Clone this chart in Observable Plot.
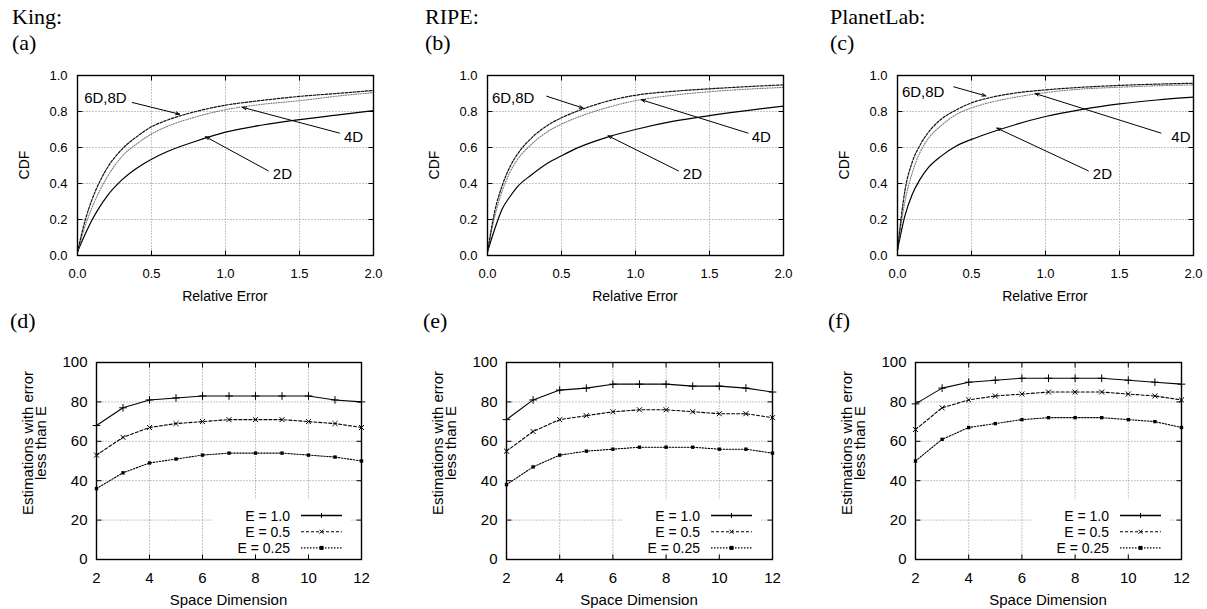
<!DOCTYPE html>
<html><head><meta charset="utf-8">
<script src="https://cdn.jsdelivr.net/npm/d3@7"></script>
<script src="https://cdn.jsdelivr.net/npm/@observablehq/plot@0.6"></script>
<style>
html,body{margin:0;padding:0;background:#fff;}
#root{position:relative;width:1207px;height:609px;overflow:hidden;font-family:"Liberation Sans",Arial,sans-serif;}
.panel{position:absolute;}
#overlay{position:absolute;left:0;top:0;pointer-events:none;}
</style></head><body><div id="root"></div>
<script>
// ---------- data ----------
const datasetNames = ["King:", "RIPE:", "PlanetLab:"];
const topTags = ["(a)", "(b)", "(c)"];
const bottomTags = ["(d)", "(e)", "(f)"];
const cdfSeriesNames = ["2D", "4D", "6D,8D"];

// Relative error sample points (x) for CDF curves
const cdfX = [0, 0.05, 0.1, 0.15, 0.2, 0.3, 0.4, 0.5, 0.6, 0.8, 1.0, 1.25, 1.5, 1.75, 2.0];

const king2D   = [0.02, 0.115, 0.20, 0.27, 0.33, 0.42, 0.485, 0.535, 0.575, 0.635, 0.685, 0.725, 0.755, 0.78, 0.805];
const king4D   = [0.02, 0.16, 0.27, 0.36, 0.435, 0.55, 0.62, 0.675, 0.715, 0.77, 0.81, 0.84, 0.86, 0.885, 0.905];
const king6D8D = [0.02, 0.19, 0.315, 0.41, 0.485, 0.59, 0.66, 0.715, 0.75, 0.80, 0.835, 0.862, 0.884, 0.90, 0.917];

const ripe2D   = [0.02, 0.15, 0.26, 0.325, 0.38, 0.45, 0.51, 0.554, 0.595, 0.655, 0.70, 0.745, 0.777, 0.805, 0.83];
const ripe4D   = [0.02, 0.22, 0.36, 0.46, 0.53, 0.62, 0.685, 0.73, 0.765, 0.82, 0.86, 0.89, 0.91, 0.924, 0.934];
const ripe6D8D = [0.02, 0.25, 0.39, 0.49, 0.56, 0.655, 0.72, 0.765, 0.80, 0.855, 0.89, 0.912, 0.926, 0.938, 0.948];

const planet2D   = [0.03, 0.22, 0.34, 0.42, 0.48, 0.555, 0.61, 0.645, 0.675, 0.728, 0.772, 0.812, 0.842, 0.864, 0.88];
const planet4D   = [0.03, 0.30, 0.46, 0.57, 0.64, 0.725, 0.785, 0.82, 0.845, 0.88, 0.905, 0.925, 0.935, 0.943, 0.948];
const planet6D8D = [0.03, 0.36, 0.52, 0.61, 0.675, 0.76, 0.81, 0.848, 0.872, 0.903, 0.92, 0.935, 0.945, 0.952, 0.957];

// Annotation labels and arrows (data coordinates)
const annLabels = ["6D,8D", "4D", "2D"];
const kingAnn = [
  {lx: 0.045, ly: 0.875, x1: 0.37, y1: 0.85, x2: 0.69, y2: 0.785},
  {lx: 1.80, ly: 0.655, x1: 1.77, y1: 0.68, x2: 1.115, y2: 0.823},
  {lx: 1.32, ly: 0.45, x1: 1.29, y1: 0.47, x2: 0.865, y2: 0.66}
];
const ripeAnn = [
  {lx: 0.03, ly: 0.875, x1: 0.40, y1: 0.885, x2: 0.646, y2: 0.819},
  {lx: 1.785, ly: 0.655, x1: 1.76, y1: 0.68, x2: 1.04, y2: 0.865},
  {lx: 1.32, ly: 0.45, x1: 1.29, y1: 0.47, x2: 0.815, y2: 0.665}
];
const planetAnn = [
  {lx: 0.03, ly: 0.91, x1: 0.38, y1: 0.937, x2: 0.597, y2: 0.887},
  {lx: 1.85, ly: 0.655, x1: 1.78, y1: 0.68, x2: 0.93, y2: 0.90},
  {lx: 1.32, ly: 0.45, x1: 1.29, y1: 0.47, x2: 0.671, y2: 0.708}
];

// Space dimension vs % estimations with error < E
const dims = [2, 3, 4, 5, 6, 7, 8, 9, 10, 11, 12];
const errNames = ["E = 1.0", "E = 0.5", "E = 0.25"];
const kingE100 = [68, 77, 81, 82, 83, 83, 83, 83, 83, 81, 80];
const kingE050 = [53, 62, 67, 69, 70, 71, 71, 71, 70, 69, 67];
const kingE025 = [36, 44, 49, 51, 53, 54, 54, 54, 53, 52, 50];
const ripeE100 = [71, 81, 86, 87, 89, 89, 89, 88, 88, 87, 85];
const ripeE050 = [55, 65, 71, 73, 75, 76, 76, 75, 74, 74, 72];
const ripeE025 = [38, 47, 53, 55, 56, 57, 57, 57, 56, 56, 54];
const planetE100 = [79, 87, 90, 91, 92, 92, 92, 92, 91, 90, 89];
const planetE050 = [66, 77, 81, 83, 84, 85, 85, 85, 84, 83, 81];
const planetE025 = [50, 61, 67, 69, 71, 72, 72, 72, 71, 70, 67];

const cdfDomainX = [0, 2];
const cdfDomainY = [0, 1];
const cdfTicksX = [0, 0.5, 1, 1.5, 2];
const cdfTicksY = [0, 0.2, 0.4, 0.6, 0.8, 1];
const cdfGridX = [0.5, 1, 1.5];
const cdfGridY = [0.2, 0.4, 0.6, 0.8];
const dimDomainX = [2, 12];
const dimDomainY = [0, 100];
const dimTicksX = [2, 4, 6, 8, 10, 12];
const dimTicksY = [0, 20, 40, 60, 80, 100];
const dimGridX = [4, 6, 8, 10];
const dimGridY = [20, 40, 60, 80];

// ---------- styles / layout ----------
const SANS = "Liberation Sans, Arial, Helvetica, sans-serif";
const SERIF = "Liberation Serif, Times New Roman, serif";
const cdfStyles = [
  {stroke: "black", strokeWidth: 1.2, dash: null},
  {stroke: "#777", strokeWidth: 1.1, dash: "1,1.5"},
  {stroke: "#111", strokeWidth: 1.2, dash: "2.5,1.5"}
];
const errStyles = [
  {dash: null, symbol: "plus", fill: "none", r: 2.6},
  {dash: "3,2", symbol: "times", fill: "none", r: 2.4},
  {dash: "1.5,1.5", symbol: "square", fill: "black", r: 1.9}
];
const gridStyle = {stroke: "#8a8a8a", strokeOpacity: 1, strokeWidth: 1, strokeDasharray: "1,2"};

const topLayout = [
  {left: 0, width: 400, ml: 77, mr: 27},
  {left: 400, width: 400, ml: 87, mr: 17},
  {left: 800, width: 407, ml: 97, mr: 14}
];
const botLayout = [
  {left: 0, width: 400, ml: 96, mr: 39},
  {left: 400, width: 400, ml: 106, mr: 28},
  {left: 800, width: 407, ml: 115, mr: 26}
];
const TOP = {top: 60, height: 250, mt: 15, mb: 55};
const BOT = {top: 340, height: 269, mt: 22, mb: 50};
const TICK = 5;

const cdfData = [
  [king2D, king4D, king6D8D],
  [ripe2D, ripe4D, ripe6D8D],
  [planet2D, planet4D, planet6D8D]
];
const annData = [kingAnn, ripeAnn, planetAnn];
const errData = [
  [kingE100, kingE050, kingE025],
  [ripeE100, ripeE050, ripeE025],
  [planetE100, planetE050, planetE025]
];

const root = document.getElementById("root");

function place(el, left, top) {
  const wrap = document.createElement("div");
  wrap.className = "panel";
  wrap.style.left = left + "px";
  wrap.style.top = top + "px";
  wrap.appendChild(el);
  root.appendChild(wrap);
}

// dotted grid + inward gnuplot-style ticks on all four sides, drawn as links
function gridAndTicks(gx, gy, xt, yt, dx, dy, fw, fh) {
  const tx = (dx[1] - dx[0]) * TICK / fw;   // tick length in x data units
  const ty = (dy[1] - dy[0]) * TICK / fh;   // tick length in y data units
  const s = {stroke: "black", strokeWidth: 1};
  const V = a => a.map(v => ({v}));
  return [
    Plot.link(V(gx), {x1: "v", x2: "v", y1: () => dy[0], y2: () => dy[1], ...gridStyle}),
    Plot.link(V(gy), {y1: "v", y2: "v", x1: () => dx[0], x2: () => dx[1], ...gridStyle}),
    Plot.link(V(xt), {x1: "v", x2: "v", y1: () => dy[0], y2: () => dy[0] + ty, ...s}),
    Plot.link(V(xt), {x1: "v", x2: "v", y1: () => dy[1], y2: () => dy[1] - ty, ...s}),
    Plot.link(V(yt), {y1: "v", y2: "v", x1: () => dx[0], x2: () => dx[0] + tx, ...s}),
    Plot.link(V(yt), {y1: "v", y2: "v", x1: () => dx[1], x2: () => dx[1] - tx, ...s})
  ];
}

// ---------- CDF panels ----------
cdfData.forEach((series, p) => {
  const L = topLayout[p];
  const fw = L.width - L.ml - L.mr, fh = TOP.height - TOP.mt - TOP.mb;
  const rows = [];
  series.forEach((vals, s) => vals.forEach((v, i) => rows.push({x: cdfX[i], y: v, s: cdfSeriesNames[s]})));
  const ann = annData[p].map((a, i) => ({...a, label: annLabels[i]}));
  const chart = Plot.plot({
    width: L.width, height: TOP.height,
    marginLeft: L.ml, marginRight: L.mr, marginTop: TOP.mt, marginBottom: TOP.mb,
    style: {fontFamily: SANS, fontSize: "13px", color: "black", background: "white", overflow: "visible"},
    x: {domain: cdfDomainX},
    y: {domain: cdfDomainY},
    marks: [
      ...gridAndTicks(cdfGridX, cdfGridY, cdfTicksX, cdfTicksY, cdfDomainX, cdfDomainY, fw, fh),
      Plot.axisX({ticks: cdfTicksX, tickSize: 0, tickPadding: 13, tickFormat: d3.format(".1f"), label: null, fontSize: 13}),
      Plot.axisY({ticks: cdfTicksY, tickSize: 0, tickPadding: 10, tickFormat: d3.format(".1f"), label: null, fontSize: 13}),
      ...cdfSeriesNames.map((name, s) => Plot.line(rows.filter(r => r.s === name), {
        x: "x", y: "y", curve: "monotone-x",
        stroke: cdfStyles[s].stroke, strokeWidth: cdfStyles[s].strokeWidth,
        strokeDasharray: cdfStyles[s].dash
      })),
      Plot.arrow(ann, {x1: "x1", y1: "y1", x2: "x2", y2: "y2", stroke: "black", strokeWidth: 1, headLength: 6, headAngle: 40}),
      Plot.text(ann, {x: "lx", y: "ly", text: "label", textAnchor: "start", fontSize: 15, fill: "black"}),
      Plot.frame({stroke: "black", strokeWidth: 1.4})
    ]
  });
  place(chart, L.left, TOP.top);
});

// ---------- dimension panels ----------
errData.forEach((series, p) => {
  const L = botLayout[p];
  const fw = L.width - L.ml - L.mr, fh = BOT.height - BOT.mt - BOT.mb;
  const rows = [];
  series.forEach((vals, s) => vals.forEach((v, i) => rows.push({d: dims[i], v, s: errNames[s]})));
  const chart = Plot.plot({
    width: L.width, height: BOT.height,
    marginLeft: L.ml, marginRight: L.mr, marginTop: BOT.mt, marginBottom: BOT.mb,
    style: {fontFamily: SANS, fontSize: "15px", color: "black", background: "white", overflow: "visible"},
    x: {domain: dimDomainX},
    y: {domain: dimDomainY},
    marks: [
      ...gridAndTicks(dimGridX, dimGridY, dimTicksX, dimTicksY, dimDomainX, dimDomainY, fw, fh),
      Plot.axisX({ticks: dimTicksX, tickSize: 0, tickPadding: 13, label: null, fontSize: 15}),
      Plot.axisY({ticks: dimTicksY, tickSize: 0, tickPadding: 9, label: null, fontSize: 15}),
      ...errNames.map((name, s) => Plot.line(rows.filter(r => r.s === name), {
        x: "d", y: "v", stroke: "black", strokeWidth: 1.1, strokeDasharray: errStyles[s].dash
      })),
      ...errNames.map((name, s) => Plot.dot(rows.filter(r => r.s === name), {
        x: "d", y: "v", symbol: errStyles[s].symbol, r: errStyles[s].r,
        stroke: errStyles[s].fill === "none" ? "black" : "none", fill: errStyles[s].fill, strokeWidth: 1
      })),
      Plot.frame({stroke: "black", strokeWidth: 1.4})
    ]
  });
  place(chart, L.left, BOT.top);
});

// ---------- overlay: titles, axis titles, legends ----------
const overlay = d3.select("#root").append("svg").attr("id", "overlay")
  .attr("width", 1207).attr("height", 609);

function txt(x, y, s, size, o = {}) {
  const t = overlay.append("text").attr("x", x).attr("y", y).text(s)
    .attr("font-size", size)
    .attr("font-family", o.serif ? SERIF : SANS)
    .attr("text-anchor", o.anchor || "start")
    .attr("fill", "black");
  if (o.middle) t.attr("dominant-baseline", "central");
  if (o.rotate) t.attr("transform", `rotate(${o.rotate},${x},${y})`);
  return t;
}

const titleX = [12, 425, 830];
const botTagX = [10, 423, 828];
datasetNames.forEach((n, i) => {
  txt(titleX[i], 24, n, 22, {serif: true});
  txt(titleX[i], 50, topTags[i], 22, {serif: true});
  txt(botTagX[i], 328, bottomTags[i], 22, {serif: true});
});

topLayout.forEach(L => {
  const fl = L.left + L.ml, fr = L.left + L.width - L.mr;
  const fmid = (TOP.top + TOP.mt + TOP.top + TOP.height - TOP.mb) / 2;
  txt(fl - 53, fmid, "CDF", 14, {anchor: "middle", middle: true, rotate: -90});
  txt((fl + fr) / 2, 296, "Relative Error", 14, {anchor: "middle", middle: true});
});

botLayout.forEach((L, p) => {
  const fl = L.left + L.ml, fr = L.left + L.width - L.mr;
  const fb = BOT.top + BOT.height - BOT.mb;
  txt((fl + fr) / 2, 599, "Space Dimension", 15, {anchor: "middle", middle: true});
  const t = overlay.append("text").attr("font-size", 15).attr("font-family", SANS).attr("fill", "black")
    .attr("text-anchor", "middle").attr("transform", `translate(${fl - 61},443) rotate(-90)`);
  t.append("tspan").attr("x", 0).attr("y", -2).text("Estimations with error");
  t.append("tspan").attr("x", 0).attr("dy", 13).text("less than E");
  // legend box
  overlay.append("rect").attr("x", fl + 117).attr("y", fb - 60).attr("width", 138).attr("height", 54).attr("fill", "white");
  const rowY = [fb - 43.5, fb - 27.3, fb - 11.1];
  errNames.forEach((name, s) => {
    const y = rowY[s];
    txt(fl + 194, y, name, 14, {anchor: "end", middle: true});
    overlay.append("line").attr("x1", fl + 205).attr("x2", fl + 246).attr("y1", y).attr("y2", y)
      .attr("stroke", "black").attr("stroke-width", s === 0 ? 1.4 : 1.1)
      .attr("stroke-dasharray", errStyles[s].dash);
    const cx = fl + 225.5;
    if (s === 0) overlay.append("path").attr("d", `M${cx-2.5},${y}H${cx+2.5}M${cx},${y-2.5}V${y+2.5}`).attr("stroke", "black");
    if (s === 1) overlay.append("path").attr("d", `M${cx-2},${y-2}L${cx+2},${y+2}M${cx-2},${y+2}L${cx+2},${y-2}`).attr("stroke", "black");
    if (s === 2) overlay.append("rect").attr("x", cx - 2).attr("y", y - 2).attr("width", 4).attr("height", 4).attr("fill", "black");
  });
});
</script>
</body></html>
